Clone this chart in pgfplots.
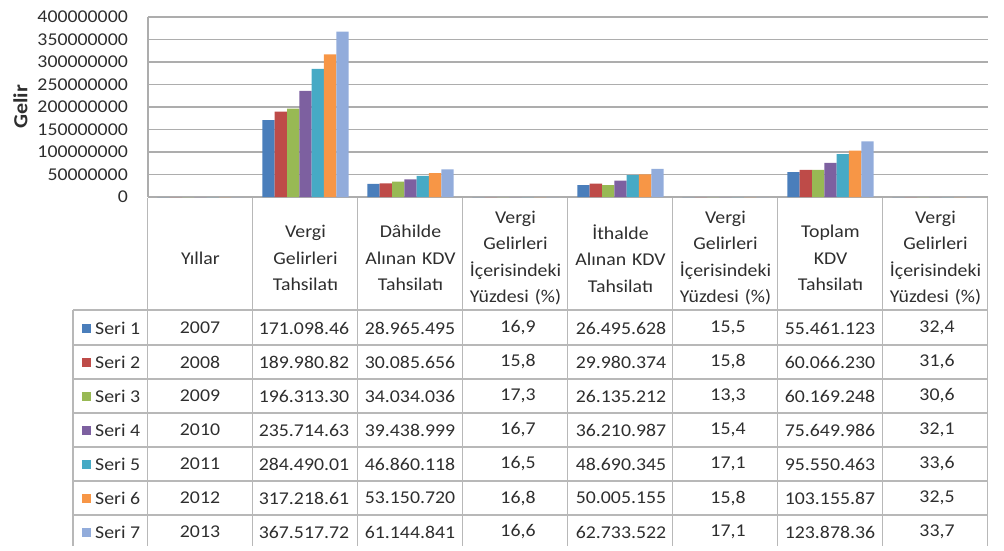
\documentclass[border=0pt]{standalone}
\usepackage{pgfplots}
\pgfplotsset{compat=1.18}
\usepackage{pgfplotstable}
\usepackage{fontspec}
\setmainfont{Carlito}[FakeStretch=1.1]

\definecolor{s1}{HTML}{4A7EBB}
\definecolor{s2}{HTML}{BE4B48}
\definecolor{s3}{HTML}{98B954}
\definecolor{s4}{HTML}{7D60A0}
\definecolor{s5}{HTML}{46AAC5}
\definecolor{s6}{HTML}{F79646}
\definecolor{s7}{HTML}{92ACDB}
\definecolor{gridc}{HTML}{ADADAD}
\definecolor{tabc}{HTML}{B8B8B8}
\definecolor{txt}{HTML}{2E2E2E}

\pgfplotstableread{
x v1 v2 v3 v4 v5 v6 v7
0 2007 2008 2009 2010 2011 2012 2013
1 171098460 189980820 196313300 235714630 284490010 317218610 367517720
2 28965495 30085656 34034036 39438999 46860118 53150720 61144841
3 16.9 15.8 17.3 16.7 16.5 16.8 16.6
4 26495628 29980374 26135212 36210987 48690345 50005155 62733522
5 15.5 15.8 13.3 15.4 17.1 15.8 17.1
6 55461123 60066230 60169248 75649986 95550463 103155870 123878360
7 32.4 31.6 30.6 32.1 33.6 32.5 33.7
}\data

\newcommand\trow[9]{%
  \pgfmathsetmacro\yy{222-34*(#1-1)}
  \fill[s#1] (82,\yy-4.5) rectangle ++(9,9);
  \node[anchor=west,inner sep=0pt] at (95,\yy) {Seri #1};
  \node at (200,\yy) {#2};
  \node at (304,\yy) {#3};
  \node at (410,\yy) {#4};
  \node at (518,\yy) {#5};
  \node at (621,\yy) {#6};
  \node at (728,\yy) {#7};
  \node at (830,\yy) {#8};
  \node at (937,\yy) {#9};
}

\begin{document}
\begin{tikzpicture}[x=1pt,y=1pt,font=\fontsize{18}{26.5}\selectfont,text=txt]
\path[use as bounding box] (0,0) rectangle (1004,550);
\begin{axis}[
  at={(148pt,353pt)}, anchor=south west,
  scale only axis, width=840pt, height=180pt,
  xmin=-0.5, xmax=7.5, ymin=0, ymax=400000000,
  enlargelimits=false, clip=false,
  ybar=0pt, bar width=12.3pt,
  scaled y ticks=false,
  /pgf/number format/assume math mode=true,
  xtick={0,1,2,3,4,5,6,7},
  xticklabels={Yıllar,
    {Vergi\\Gelirleri\\Tahsilatı},
    {Dâhilde\\Alınan KDV\\Tahsilatı},
    {Vergi\\Gelirleri\\İçerisindeki\\Yüzdesi (\%)},
    {İthalde\\Alınan KDV\\Tahsilatı},
    {Vergi\\Gelirleri\\İçerisindeki\\Yüzdesi (\%)},
    {Toplam\\KDV\\Tahsilatı},
    {Vergi\\Gelirleri\\İçerisindeki\\Yüzdesi (\%)}},
  xticklabel style={anchor=center, yshift=-57pt, text width=100pt, align=center, text=txt},
  xtick style={draw=none},
  ytick={0,50000000,100000000,150000000,200000000,250000000,300000000,350000000,400000000},
  yticklabels={0,50000000,100000000,150000000,200000000,250000000,300000000,350000000,400000000},
  yticklabel style={inner sep=0pt, anchor=east, xshift=-20pt, text=txt},
  ytick style={draw=none},
  ymajorgrids, grid style={gridc, line width=1.3pt},
  axis x line*=bottom, axis y line*=left,
  axis line style={gridc, line width=1.3pt},
  ylabel={\bfseries Gelir},
  ylabel style={at={(axis description cs:-0.152,0.5)}, anchor=center, text=txt, font=\fontsize{20}{24}\selectfont},
]
\addplot[fill=s1, draw=none] table[x=x,y=v1]{\data};
\addplot[fill=s2, draw=none] table[x=x,y=v2]{\data};
\addplot[fill=s3, draw=none] table[x=x,y=v3]{\data};
\addplot[fill=s4, draw=none] table[x=x,y=v4]{\data};
\addplot[fill=s5, draw=none] table[x=x,y=v5]{\data};
\addplot[fill=s6, draw=none] table[x=x,y=v6]{\data};
\addplot[fill=s7, draw=none] table[x=x,y=v7]{\data};
\end{axis}
% data table grid
\foreach \k in {0,...,8} {
  \draw[tabc, line width=1.2pt] (147.5+105*\k,352.5) -- (147.5+105*\k,4);
}
\draw[tabc, line width=1.2pt] (73,240) -- (73,4);
\foreach \yl in {240,205,171,137,103,69,35} {
  \draw[tabc, line width=1.2pt] (73,\yl) -- (987.5,\yl);
}
\trow{1}{2007}{171.098.46}{28.965.495}{16,9}{26.495.628}{15,5}{55.461.123}{32,4}
\trow{2}{2008}{189.980.82}{30.085.656}{15,8}{29.980.374}{15,8}{60.066.230}{31,6}
\trow{3}{2009}{196.313.30}{34.034.036}{17,3}{26.135.212}{13,3}{60.169.248}{30,6}
\trow{4}{2010}{235.714.63}{39.438.999}{16,7}{36.210.987}{15,4}{75.649.986}{32,1}
\trow{5}{2011}{284.490.01}{46.860.118}{16,5}{48.690.345}{17,1}{95.550.463}{33,6}
\trow{6}{2012}{317.218.61}{53.150.720}{16,8}{50.005.155}{15,8}{103.155.87}{32,5}
\trow{7}{2013}{367.517.72}{61.144.841}{16,6}{62.733.522}{17,1}{123.878.36}{33,7}
\end{tikzpicture}
\end{document}
